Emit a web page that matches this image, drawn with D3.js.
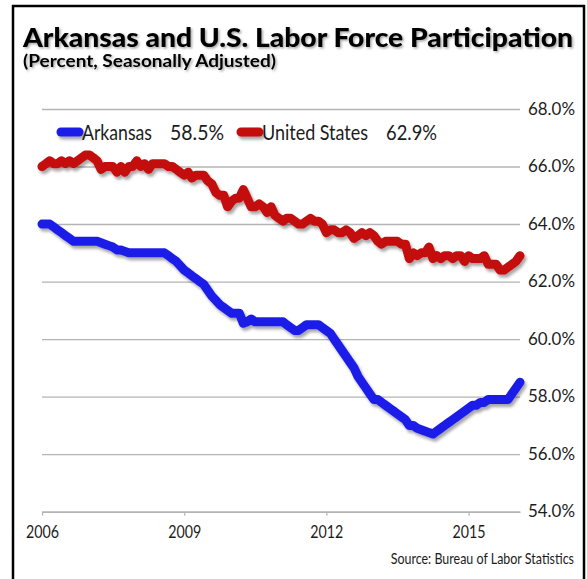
<!DOCTYPE html>
<html>
<head>
<meta charset="utf-8">
<script src="https://cdn.jsdelivr.net/npm/d3@7"></script>
<style>
  html, body { margin: 0; padding: 0; background: #fff; }
  svg { display: block; }
  text { font-family: Lato, "Open Sans", sans-serif; fill: #1c1c1c; }
</style>
</head>
<body>
<div id="chart"></div>
<script>
// Monthly data, Jan 2006 - Feb 2016
const startMonth = new Date(2006, 0, 1);
const endMonth = new Date(2016, 1, 1);

const arkansas = [
  64.0, 64.0, 64.0, 63.9, 63.8, 63.7, 63.6, 63.5, 63.4, 63.4, 63.4, 63.4,
  63.4, 63.4, 63.4, 63.35, 63.3, 63.25, 63.2, 63.1, 63.1, 63.05, 63.0, 63.0,
  63.0, 63.0, 63.0, 63.0, 63.0, 63.0, 63.0, 63.0, 62.9, 62.8, 62.7, 62.55,
  62.4, 62.3, 62.2, 62.1, 62.0, 61.9, 61.7, 61.5, 61.35, 61.2, 61.1, 61.0,
  60.9, 60.9, 60.9, 60.55, 60.6, 60.7, 60.6, 60.6, 60.6, 60.6, 60.6, 60.6,
  60.6, 60.6, 60.5, 60.4, 60.3, 60.3, 60.4, 60.5, 60.5, 60.5, 60.5, 60.4,
  60.3, 60.2, 60.0, 59.8, 59.6, 59.4, 59.2, 59.0, 58.7, 58.5, 58.3, 58.1,
  57.9, 57.9, 57.8, 57.7, 57.6, 57.5, 57.4, 57.3, 57.2, 57.0, 57.0, 56.9,
  56.85, 56.8, 56.75, 56.7, 56.8, 56.9, 57.0, 57.1, 57.2, 57.3, 57.4, 57.5,
  57.6, 57.7, 57.7, 57.8, 57.8, 57.9, 57.9, 57.9, 57.9, 57.9, 57.9, 58.1,
  58.3, 58.5
];

const unitedStates = [
  66.0, 66.1, 66.2, 66.1, 66.1, 66.2, 66.1, 66.2, 66.1, 66.2, 66.3, 66.4,
  66.4, 66.3, 66.2, 65.9, 66.0, 66.0, 66.0, 65.8, 66.0, 65.8, 66.0, 66.0,
  66.2, 66.0, 66.1, 65.9, 66.1, 66.1, 66.1, 66.1, 66.0, 66.0, 65.9, 65.8,
  65.7, 65.8, 65.6, 65.7, 65.7, 65.7, 65.5, 65.4, 65.1, 65.0, 65.0, 64.6,
  64.8, 64.9, 64.9, 65.2, 64.9, 64.6, 64.6, 64.7, 64.6, 64.4, 64.6, 64.3,
  64.2, 64.1, 64.2, 64.2, 64.1, 64.0, 64.0, 64.1, 64.2, 64.1, 64.1, 64.0,
  63.7, 63.8, 63.8, 63.7, 63.7, 63.8, 63.7, 63.5, 63.6, 63.7, 63.6, 63.7,
  63.6, 63.4, 63.3, 63.4, 63.4, 63.4, 63.4, 63.3, 63.3, 62.8, 63.0, 62.9,
  63.0, 63.0, 63.2, 62.8, 62.9, 62.8, 62.9, 62.9, 62.8, 62.9, 62.9, 62.7,
  62.9, 62.8, 62.8, 62.8, 62.9, 62.6, 62.6, 62.6, 62.4, 62.4, 62.5, 62.6,
  62.7, 62.9
];

const seriesNames = ["Arkansas", "United States"];
const latestLabels = ["58.5%", "62.9%"];
const yTicks = [54, 56, 58, 60, 62, 64, 66, 68];
const xTickYears = [2006, 2009, 2012, 2015];

const colors = ["#1f1fe8", "#c40c0c"];

const width = 587, height = 579;
const plot = { left: 42, right: 520, top: 109, bottom: 511.7 };

const svg = d3.select("#chart").append("svg")
  .attr("width", width)
  .attr("height", height);

const defs = svg.append("defs");
defs.append("filter").attr("id", "lineShadow")
  .attr("filterUnits", "userSpaceOnUse")
  .attr("x", 0).attr("y", 0).attr("width", width).attr("height", height)
  .append("feDropShadow")
  .attr("dx", 2).attr("dy", 3).attr("stdDeviation", 1.8)
  .attr("flood-color", "#000").attr("flood-opacity", 0.35);
defs.append("filter").attr("id", "textShadow")
  .append("feDropShadow")
  .attr("dx", 1.5).attr("dy", 1.5).attr("stdDeviation", 0.9)
  .attr("flood-color", "#000").attr("flood-opacity", 0.35);

// frame (left, top, right edges)
const frame = svg.append("g").attr("stroke", "#000").attr("stroke-width", 2.5);
frame.append("line").attr("x1", 13).attr("x2", 13).attr("y1", 5).attr("y2", height);
frame.append("line").attr("x1", 12).attr("x2", 585).attr("y1", 6).attr("y2", 6);
frame.append("line").attr("x1", 584).attr("x2", 584).attr("y1", 5).attr("y2", height);

// title
svg.append("text")
  .attr("x", 23).attr("y", 47)
  .attr("textLength", 550).attr("lengthAdjust", "spacingAndGlyphs")
  .style("font-size", "27px").style("font-weight", 900)
  .style("fill", "#000")
  .attr("filter", "url(#textShadow)")
  .text("Arkansas and U.S. Labor Force Participation");

svg.append("text")
  .attr("x", 23).attr("y", 67)
  .attr("textLength", 253).attr("lengthAdjust", "spacingAndGlyphs")
  .style("font-size", "16.5px").style("font-weight", 700)
  .style("fill", "#000")
  .attr("filter", "url(#textShadow)")
  .text("(Percent, Seasonally Adjusted)");

// scales
const months = d3.timeMonths(startMonth, d3.timeMonth.offset(endMonth, 1));
const x = d3.scaleTime().domain([startMonth, endMonth]).range([plot.left, plot.right]);
const y = d3.scaleLinear().domain([54, 68]).range([plot.bottom, plot.top]);

// gridlines + right-hand labels
const yAxis = svg.append("g")
  .attr("transform", `translate(${plot.right},0)`)
  .call(d3.axisRight(y)
    .tickValues(yTicks)
    .tickSize(-(plot.right - plot.left))
    .tickPadding(8)
    .tickFormat(d => d3.format(".1f")(d) + "%"));
yAxis.select(".domain").remove();
yAxis.selectAll(".tick line").attr("stroke", "#b4b4b4").attr("stroke-width", 1.4);
yAxis.selectAll(".tick text")
  .attr("textLength", 47).attr("lengthAdjust", "spacingAndGlyphs")
  .style("font-size", "16.5px")
  .style("fill", "#1c1c1c");

// bottom axis
const xAxis = svg.append("g")
  .attr("transform", `translate(0,${plot.bottom})`)
  .call(d3.axisBottom(x)
    .tickValues(xTickYears.map(yr => new Date(yr, 0, 1)))
    .tickSize(4)
    .tickSizeOuter(0)
    .tickPadding(10)
    .tickFormat(d3.timeFormat("%Y")));
xAxis.select(".domain").attr("stroke", "#b4b4b4").attr("stroke-width", 1.4);
xAxis.selectAll(".tick line").attr("stroke", "#b4b4b4").attr("stroke-width", 1.2);
xAxis.selectAll(".tick text")
  .attr("textLength", 33).attr("lengthAdjust", "spacingAndGlyphs")
  .style("font-size", "17px")
  .style("fill", "#1c1c1c");

// lines
const line = d3.line()
  .x((d, i) => x(months[i]))
  .y(d => y(d));

[unitedStates, arkansas].forEach((vals, k) => {
  svg.append("path")
    .datum(vals)
    .attr("d", line)
    .attr("fill", "none")
    .attr("stroke", k === 0 ? colors[1] : colors[0])
    .attr("stroke-width", 9)
    .attr("stroke-linejoin", "round")
    .attr("stroke-linecap", "round")
    .attr("filter", "url(#lineShadow)");
});

// legend
const legendItems = [
  { sx: 61, nameX: 82, nameW: 70, valX: 170, valW: 54 },
  { sx: 241, nameX: 262, nameW: 106, valX: 386, valW: 51 }
];
const legend = svg.append("g");
legendItems.forEach((it, i) => {
  legend.append("line")
    .attr("x1", it.sx).attr("x2", it.sx + 18)
    .attr("y1", 132).attr("y2", 132)
    .attr("stroke", colors[i])
    .attr("stroke-width", 9)
    .attr("stroke-linecap", "round")
    .attr("filter", "url(#lineShadow)");
  legend.append("text")
    .attr("x", it.nameX).attr("y", 139.5)
    .attr("textLength", it.nameW).attr("lengthAdjust", "spacingAndGlyphs")
    .style("font-size", "22px")
    .text(seriesNames[i]);
  legend.append("text")
    .attr("x", it.valX).attr("y", 139.5)
    .attr("textLength", it.valW).attr("lengthAdjust", "spacingAndGlyphs")
    .style("font-size", "22px")
    .text(latestLabels[i]);
});

// source (horizontally condensed)
svg.append("g")
  .attr("transform", "translate(574,564) scale(0.86,1)")
  .append("text")
  .attr("text-anchor", "end")
  .style("font-size", "14.5px")
  .text("Source: Bureau of Labor Statistics");
</script>
</body>
</html>
